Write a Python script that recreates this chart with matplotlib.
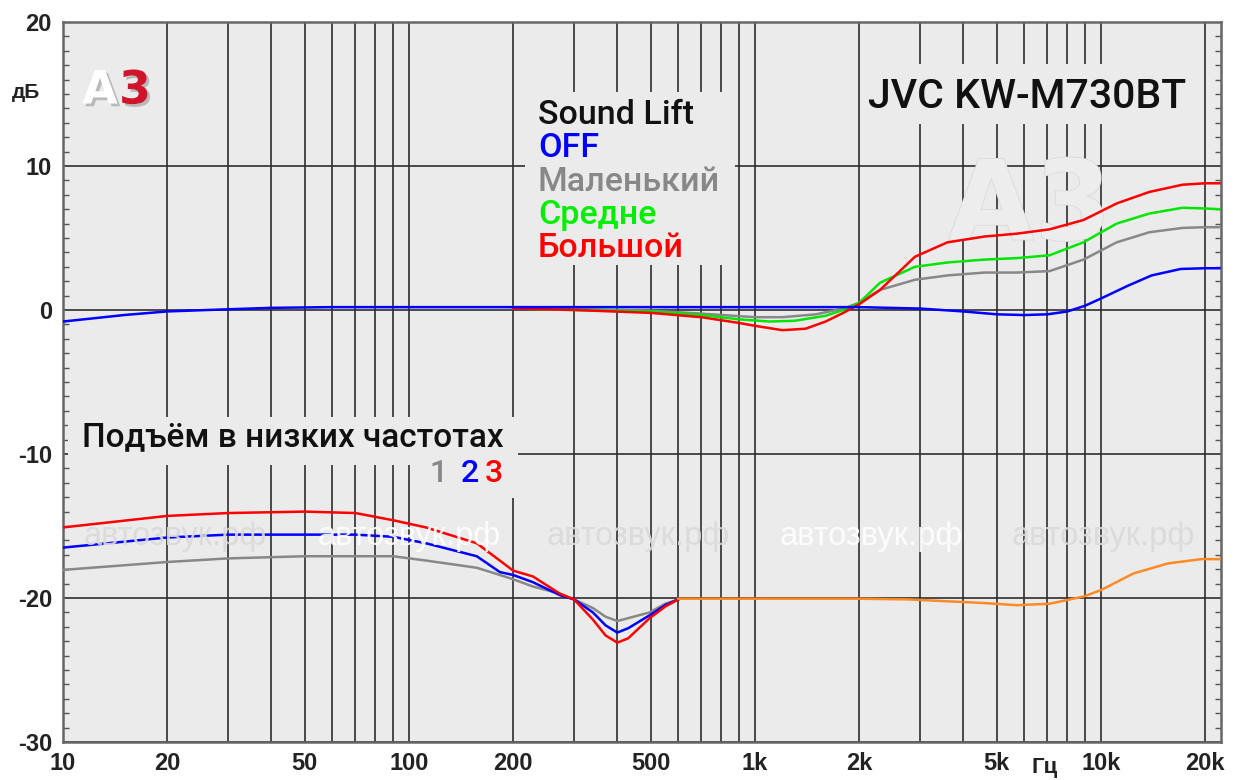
import numpy as np
import matplotlib
matplotlib.use("Agg")
import matplotlib.pyplot as plt
import matplotlib.patheffects as pe
from matplotlib.patches import Rectangle

# ---- data (Hz, dB) ----
# Sound Lift curves (upper group)
f_off = [10, 12, 15, 20, 30, 40, 60, 100, 200, 500, 1000, 2000, 3000, 4000, 5000,
         6000, 7000, 8000, 9000, 10000, 12000, 14000, 17000, 20000, 22000]
db_off = [-0.8, -0.6, -0.35, -0.1, 0.05, 0.15, 0.2, 0.2, 0.2, 0.2, 0.2, 0.2, 0.1, -0.1, -0.3,
          -0.35, -0.3, -0.1, 0.3, 0.8, 1.7, 2.4, 2.85, 2.9, 2.9]

f_small = [200, 300, 500, 700, 1000, 1200, 1500, 1800, 2000, 2300, 2900, 3600, 4600, 5700,
           7100, 8900, 11100, 13800, 17200, 20000, 22000]
db_small = [0.1, 0.05, -0.05, -0.25, -0.5, -0.5, -0.3, 0.1, 0.5, 1.4, 2.1, 2.4, 2.6, 2.6,
            2.7, 3.5, 4.7, 5.4, 5.7, 5.75, 5.75]

f_mid = [200, 300, 500, 700, 900, 1100, 1300, 1600, 1800, 2000, 2300, 2900, 3600, 4600, 5700,
         7100, 8900, 11100, 13800, 17200, 20000, 22000]
db_mid = [0.1, 0.0, -0.1, -0.35, -0.65, -0.8, -0.75, -0.4, 0.0, 0.5, 1.9, 3.0, 3.3, 3.5, 3.6,
          3.8, 4.7, 6.0, 6.7, 7.1, 7.05, 7.0]

f_big = [200, 300, 500, 700, 900, 1000, 1200, 1400, 1600, 1800, 2000, 2300, 2900, 3600, 4600,
         5700, 7100, 8900, 11100, 13800, 17200, 20000, 22000]
db_big = [0.1, 0.0, -0.2, -0.5, -0.9, -1.1, -1.4, -1.3, -0.8, -0.2, 0.4, 1.4, 3.7, 4.7, 5.1,
          5.3, 5.6, 6.25, 7.4, 8.2, 8.7, 8.8, 8.8]

# Bass boost curves (lower group, offset -20 dB)
f_bass = [10, 20, 30, 50, 70, 90, 112, 157, 183, 200, 228, 273, 300, 340, 370, 400, 430, 496, 550, 600]
db_bass1 = [-18.05, -17.5, -17.25, -17.1, -17.1, -17.1, -17.4, -17.9, -18.4, -18.7, -19.2, -19.7,
            -20.1, -20.7, -21.3, -21.6, -21.4, -21.0, -20.4, -20.1]
db_bass2 = [-16.5, -15.8, -15.6, -15.6, -15.6, -15.75, -16.2, -17.1, -18.2, -18.4, -18.9, -19.8,
            -20.1, -21.0, -21.9, -22.4, -22.1, -21.2, -20.5, -20.1]
db_bass3 = [-15.1, -14.3, -14.1, -14.0, -14.1, -14.6, -15.1, -16.2, -17.4, -18.1, -18.5, -19.7,
            -20.1, -21.5, -22.6, -23.1, -22.8, -21.4, -20.6, -20.1]

f_rest = [600, 1000, 2000, 2800, 3400, 4600, 5700, 7100, 8900, 10000, 12400, 15600, 19500, 22000]
db_rest = [-20.05, -20.05, -20.05, -20.1, -20.2, -20.35, -20.5, -20.4, -19.9, -19.45, -18.3,
           -17.6, -17.3, -17.3]

x_tick_pos = [10, 20, 50, 100, 200, 500, 1000, 2000, 5000, 10000, 20000]
x_tick_lab = ["10", "20", "50", "100", "200", "500", "1k", "2k", "5k", "10k", "20k"]
x_grid = [20, 30, 40, 50, 60, 70, 80, 90, 100, 200, 300, 400, 500, 600, 700, 800, 900,
          1000, 2000, 3000, 4000, 5000, 6000, 7000, 8000, 9000, 10000, 20000]
y_ticks = [-30, -20, -10, 0, 10, 20]

tick_font = ["Liberation Sans Narrow", "Liberation Sans", "DejaVu Sans"]
txt_font = ["Roboto", "DejaVu Sans"]

fig = plt.figure(figsize=(12.37, 7.8), dpi=100)
ax = fig.add_axes([63 / 1237, 38 / 780, 1158 / 1237, 720 / 780])
ax.set_facecolor("#ebebeb")
ax.set_axisbelow(True)
ax.set_xscale("log")
ax.set_xlim(10, 10 ** (1 + 1158 / 346))
ax.set_ylim(-30, 20)

ax.set_xticks(x_tick_pos, x_tick_lab)
ax.set_xticks(x_grid, minor=True)
ax.xaxis.set_minor_formatter(matplotlib.ticker.NullFormatter())
ax.set_yticks(y_ticks, [str(v) for v in y_ticks])
ax.set_yticks(np.arange(-30, 21, 1), minor=True)
ax.grid(True, axis="x", which="both", color="#2e2e2e", lw=1.2)
ax.grid(True, axis="y", which="major", color="#2e2e2e", lw=1.2)
ax.tick_params(axis="x", which="both", length=0, pad=7)
ax.tick_params(axis="y", which="major", length=0, pad=8)
ax.tick_params(axis="y", which="minor", direction="in", length=4, width=1,
               left=True, right=True, color="#555555")
for lab in ax.get_xticklabels() + ax.get_yticklabels():
    lab.set_fontfamily(tick_font)
    lab.set_fontweight("bold")
    lab.set_fontsize(17)
    lab.set_color("#222222")
for s in ax.spines.values():
    s.set_color("#666666")
    s.set_linewidth(1.8)

# boxes that hide the grid behind the captions
for (x0, y0, w, h) in [(0.399, 0.6625, 0.181, 0.24), (0.688, 0.858, 0.290, 0.084),
                       (0.004, 0.385, 0.389, 0.066), (0.310, 0.339, 0.083, 0.05)]:
    ax.add_patch(Rectangle((x0, y0), w, h, transform=ax.transAxes, facecolor="#ebebeb",
                           edgecolor="none", zorder=1))

# faint logo watermark
ax.text(0.835, 0.740, "A3", transform=ax.transAxes, fontsize=80, fontweight="bold",
        color="#ededed", ha="center", va="center", zorder=1.5,
        path_effects=[pe.withStroke(linewidth=1.0, foreground="#d6d6d6")])

lw = 1.8
ax.plot(f_bass, db_bass1, color="#888888", lw=lw, zorder=3)
ax.plot(f_bass, db_bass2, color="#0000ff", lw=lw, zorder=3)
ax.plot(f_bass, db_bass3, color="#ff0000", lw=lw, zorder=3)
ax.plot(f_rest, db_rest, color="#ff8a26", lw=lw, zorder=3)
ax.plot(f_small, db_small, color="#888888", lw=lw, zorder=3)
ax.plot(f_mid, db_mid, color="#00e600", lw=lw, zorder=3)
ax.plot(f_big, db_big, color="#ff0000", lw=lw, zorder=3)
ax.plot(f_off, db_off, color="#0000ff", lw=lw, zorder=3)

# site watermarks
for i, xw in enumerate([0.097, 0.299, 0.497, 0.698, 0.898]):
    ax.text(xw, 0.285, "автозвук.рф", transform=ax.transAxes, fontsize=23.5,
            family=["Liberation Sans", "DejaVu Sans"], ha="center", va="center",
            color="#ffffff" if i % 2 else "#dadada", alpha=0.9, zorder=4)

# legend texts
sl = [("Sound Lift", "#111111"), ("OFF", "#0000ff"), ("Маленький", "#888888"),
      ("Средне", "#00ee00"), ("Большой", "#ff0000")]
for i, (t, c) in enumerate(sl):
    ax.text(0.410, 0.871 - i * 0.0463, t, transform=ax.transAxes, fontsize=24.5,
            fontweight="medium", family=txt_font, color=c, ha="left", va="center", zorder=5)

ax.text(0.695, 0.896, "JVC KW-M730BT", transform=ax.transAxes, fontsize=29.5,
        fontweight="medium", family=txt_font, color="#111111", ha="left", va="center", zorder=5)
ax.text(0.0164, 0.4236, "Подъём в низких частотах", transform=ax.transAxes, fontsize=24,
        fontweight="medium", family=txt_font, color="#111111", ha="left", va="center", zorder=5)
for t, c, xx in [("1", "#888888", 0.324), ("2", "#0000ff", 0.351), ("3", "#ff0000", 0.372)]:
    ax.text(xx, 0.3736, t, transform=ax.transAxes, fontsize=23, fontweight="medium",
            family=txt_font, color=c, ha="center", va="center", zorder=5)

# unit labels and corner logo
fig.text(26 / 1237, 1 - 92 / 780, "дБ", fontsize=15, fontweight="bold", family=tick_font,
         color="#222222", ha="center", va="center")
fig.text(1045 / 1237, 1 - 768 / 780, "Гц", fontsize=16, fontweight="bold", family=tick_font,
         color="#222222", ha="center", va="center")
shadow = [pe.withSimplePatchShadow(offset=(2, -2), shadow_rgbFace="#999999", alpha=0.6)]
fig.text(100 / 1237, 1 - 91 / 780, "A", fontsize=33, fontweight="heavy", color="white",
         ha="center", va="center", path_effects=shadow)
fig.text(135 / 1237, 1 - 91 / 780, "3", fontsize=33, fontweight="heavy", color="#d0142c",
         ha="center", va="center", path_effects=shadow)

fig.savefig("out.png", dpi=100, facecolor="white")
